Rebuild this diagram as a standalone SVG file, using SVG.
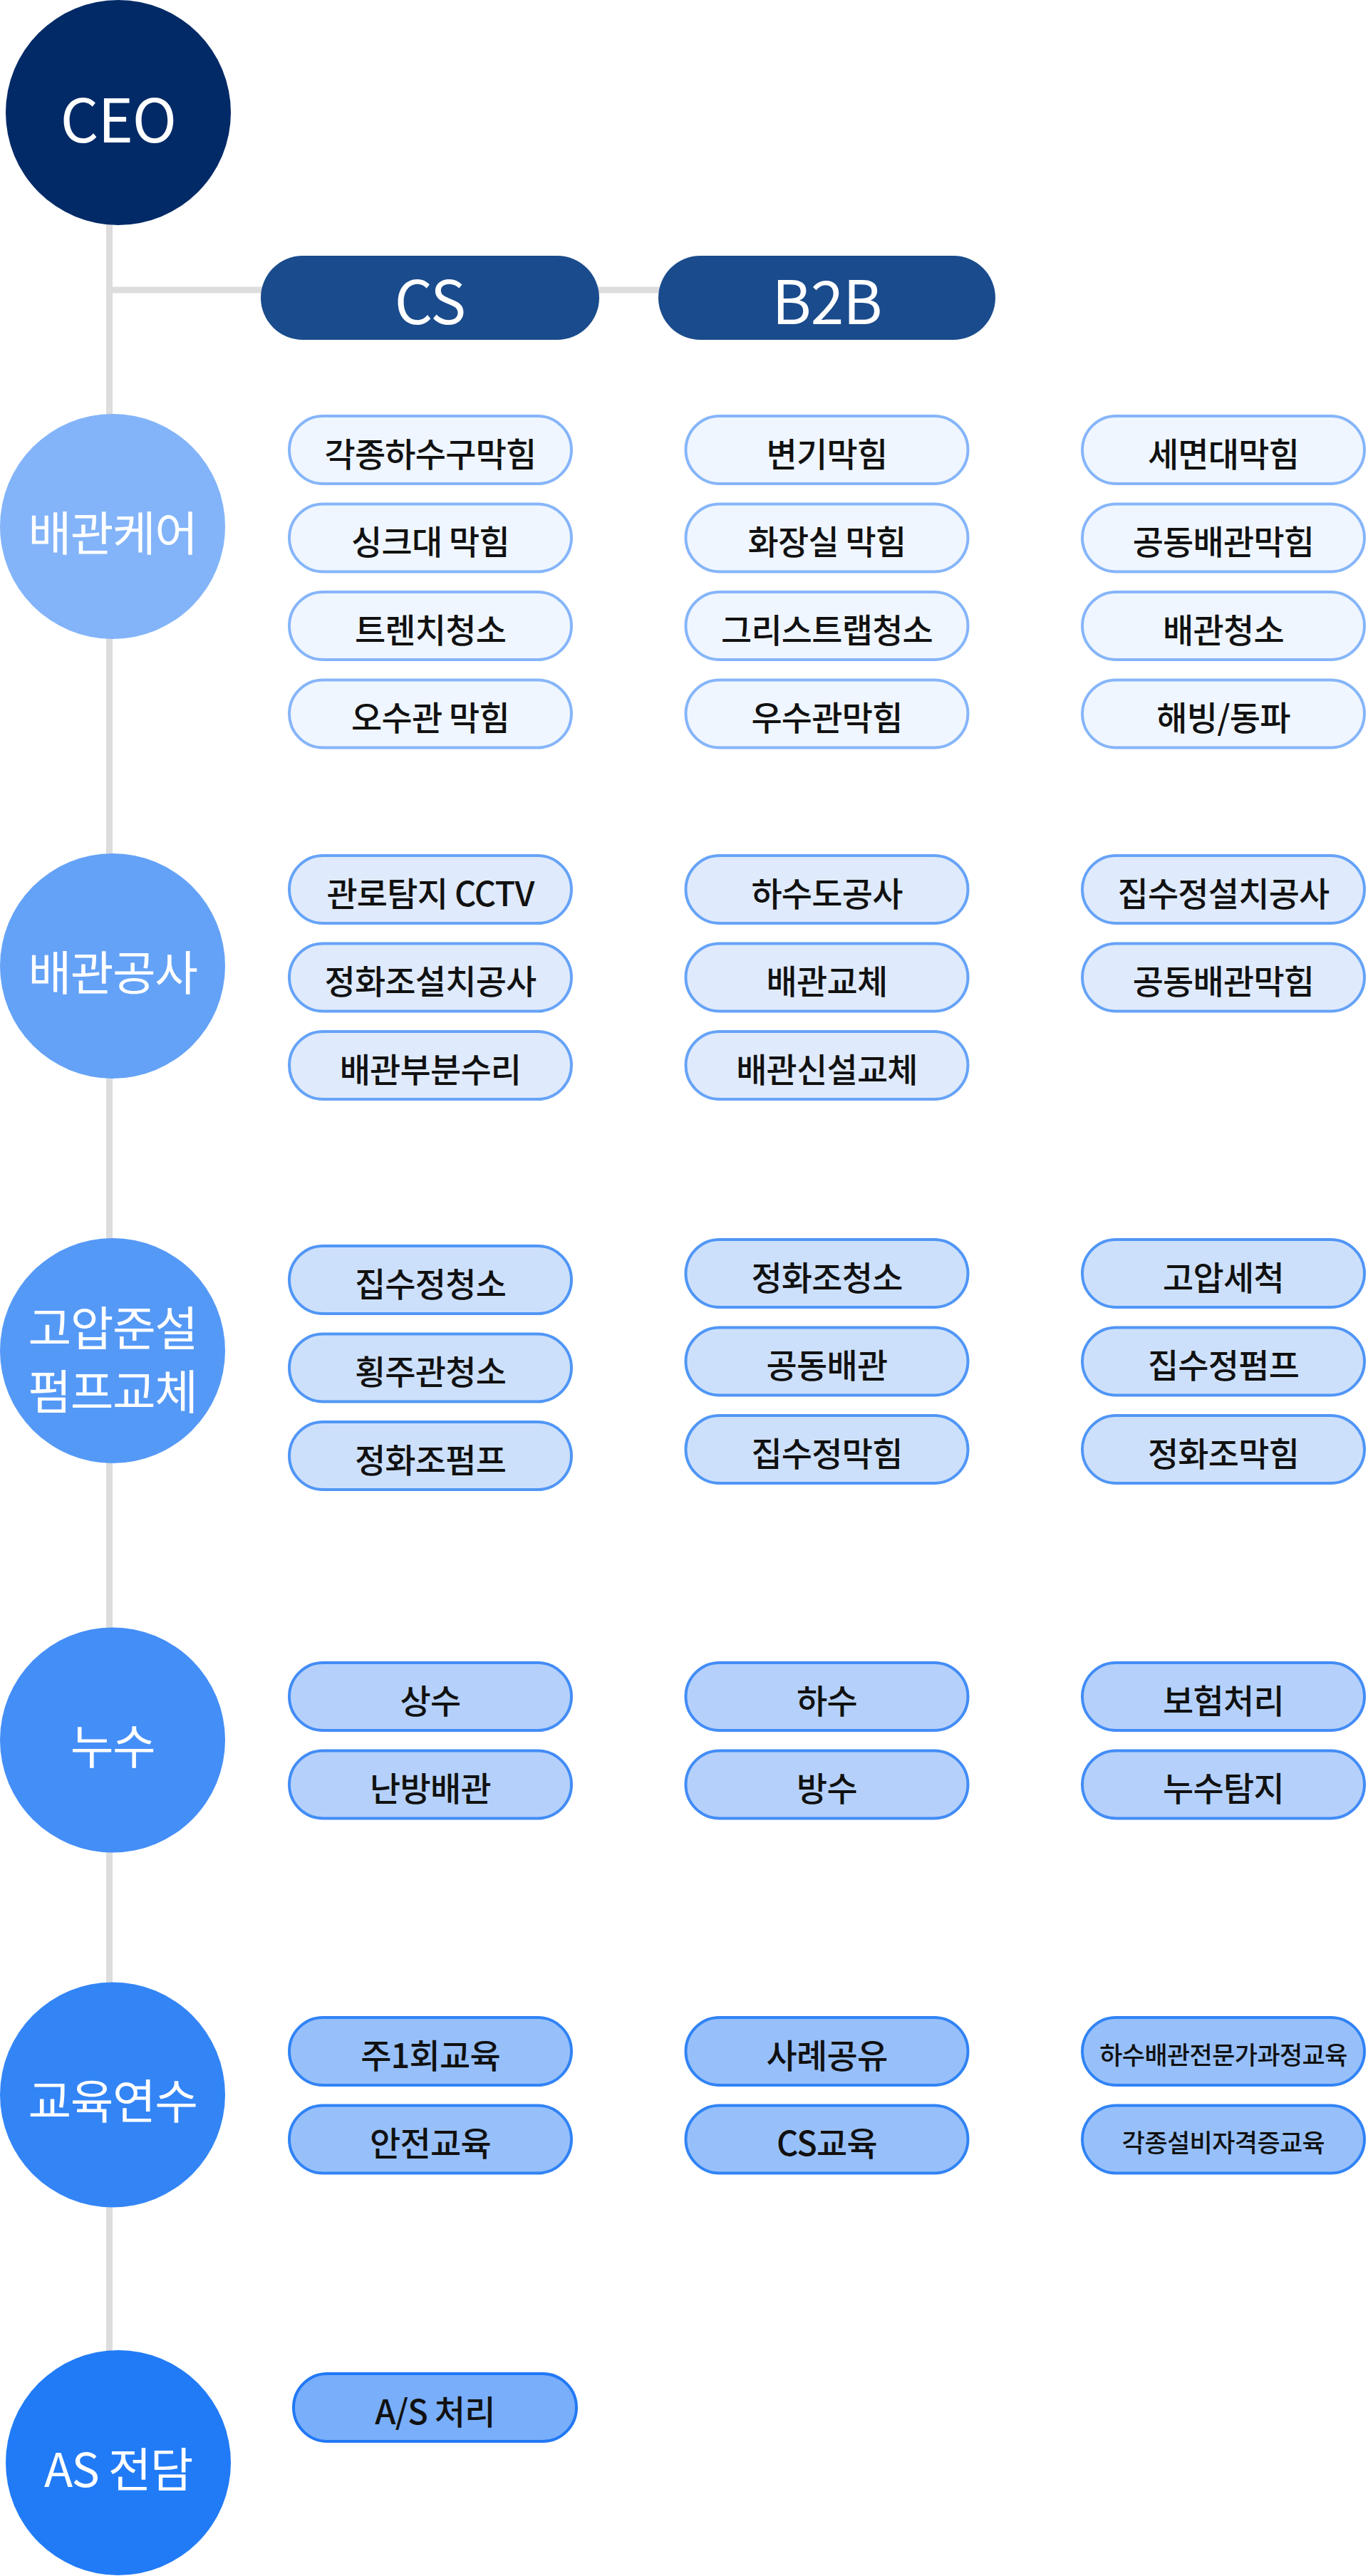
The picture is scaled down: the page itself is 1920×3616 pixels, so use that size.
<svg xmlns="http://www.w3.org/2000/svg" width="1920" height="3616" viewBox="0 0 1920 3616">
<style>
  .ft { font-family: 'Noto Sans CJK KR', 'Noto Sans', sans-serif; }
  .top { fill: #fff; font-size: 84px; text-anchor: middle; dominant-baseline: central; letter-spacing: -1px; }
  .sec { fill: #fff; font-size: 66px; text-anchor: middle; dominant-baseline: central; letter-spacing: -1.5px; }
  .it { fill: #111; font-size: 47px; font-weight: 500; text-anchor: middle; dominant-baseline: central; letter-spacing: -0.8px; }
  .sm { font-size: 35px; letter-spacing: -0.6px; }
  .pill { stroke-width: 4; }
  .c1 { fill: #eff6ff; stroke: #86b5f9; }
  .c2 { fill: #dfeafc; stroke: #66a3f7; }
  .c3 { fill: #cde0fb; stroke: #5096f6; }
  .c4 { fill: #b5d1fb; stroke: #428cf6; }
  .c5 { fill: #97c0fa; stroke: #3183f5; }
  .c6 { fill: #79aefa; stroke: #2178f5; }
</style>
<rect width="1920" height="3616" fill="#fff"/>
<g id="connectors" stroke="#dddddd" stroke-width="9" fill="none">
  <line x1="153.5" y1="158" x2="153.5" y2="3457"/>
  <line x1="153.5" y1="407" x2="930" y2="407"/>
</g>
<g class="ft">
  <g id="ceo"><circle cx="166" cy="158" r="158" fill="#022a67"/><text class="top" x="166" y="163">CEO</text></g>
  <g id="cs"><rect x="366" y="359" width="475" height="118" rx="59" fill="#1a4b8c"/><text class="top" x="603.5" y="418">CS</text></g>
  <g id="b2b"><rect x="924" y="359" width="473" height="118" rx="59" fill="#1a4b8c"/><text class="top" x="1160.5" y="418">B2B</text></g>

  <g id="sec-care"><circle cx="158" cy="739" r="158" fill="#83b4f9"/><text class="sec" x="158" y="744">배관케어</text></g>
  <g id="sec-work"><circle cx="158" cy="1356" r="158" fill="#64a2f7"/><text class="sec" x="158" y="1361">배관공사</text></g>
  <g id="sec-pump"><circle cx="158" cy="1896" r="158" fill="#5599f7"/><text class="sec" x="158" y="1860">고압준설</text><text class="sec" x="158" y="1949">펌프교체</text></g>
  <g id="sec-leak"><circle cx="158" cy="2442.5" r="158" fill="#448ef7"/><text class="sec" x="158" y="2447">누수</text></g>
  <g id="sec-edu"><circle cx="158" cy="2940.5" r="158" fill="#3385f6"/><text class="sec" x="158" y="2945">교육연수</text></g>
  <g id="sec-as"><circle cx="166" cy="3457" r="158" fill="#217bf6"/><text class="sec" x="166" y="3462">AS 전담</text></g>

  <!-- 배관케어 -->
  <g id="care-1-1"><rect class="pill c1" x="406" y="584" width="396" height="95" rx="47.5"/><text class="it" x="604" y="634">각종하수구막힘</text></g>
  <g id="care-1-2"><rect class="pill c1" x="406" y="707.5" width="396" height="95" rx="47.5"/><text class="it" x="604" y="757.5">싱크대 막힘</text></g>
  <g id="care-1-3"><rect class="pill c1" x="406" y="831" width="396" height="95" rx="47.5"/><text class="it" x="604" y="881">트렌치청소</text></g>
  <g id="care-1-4"><rect class="pill c1" x="406" y="954.5" width="396" height="95" rx="47.5"/><text class="it" x="604" y="1004.5">오수관 막힘</text></g>
  <g id="care-2-1"><rect class="pill c1" x="962.5" y="584" width="396" height="95" rx="47.5"/><text class="it" x="1160.5" y="634">변기막힘</text></g>
  <g id="care-2-2"><rect class="pill c1" x="962.5" y="707.5" width="396" height="95" rx="47.5"/><text class="it" x="1160.5" y="757.5">화장실 막힘</text></g>
  <g id="care-2-3"><rect class="pill c1" x="962.5" y="831" width="396" height="95" rx="47.5"/><text class="it" x="1160.5" y="881">그리스트랩청소</text></g>
  <g id="care-2-4"><rect class="pill c1" x="962.5" y="954.5" width="396" height="95" rx="47.5"/><text class="it" x="1160.5" y="1004.5">우수관막힘</text></g>
  <g id="care-3-1"><rect class="pill c1" x="1519" y="584" width="396" height="95" rx="47.5"/><text class="it" x="1717" y="634">세면대막힘</text></g>
  <g id="care-3-2"><rect class="pill c1" x="1519" y="707.5" width="396" height="95" rx="47.5"/><text class="it" x="1717" y="757.5">공동배관막힘</text></g>
  <g id="care-3-3"><rect class="pill c1" x="1519" y="831" width="396" height="95" rx="47.5"/><text class="it" x="1717" y="881">배관청소</text></g>
  <g id="care-3-4"><rect class="pill c1" x="1519" y="954.5" width="396" height="95" rx="47.5"/><text class="it" x="1717" y="1004.5">해빙/동파</text></g>

  <!-- 배관공사 -->
  <g id="work-1-1"><rect class="pill c2" x="406" y="1201" width="396" height="95" rx="47.5"/><text class="it" x="604" y="1251">관로탐지 CCTV</text></g>
  <g id="work-1-2"><rect class="pill c2" x="406" y="1324.5" width="396" height="95" rx="47.5"/><text class="it" x="604" y="1374.5">정화조설치공사</text></g>
  <g id="work-1-3"><rect class="pill c2" x="406" y="1448" width="396" height="95" rx="47.5"/><text class="it" x="604" y="1498">배관부분수리</text></g>
  <g id="work-2-1"><rect class="pill c2" x="962.5" y="1201" width="396" height="95" rx="47.5"/><text class="it" x="1160.5" y="1251">하수도공사</text></g>
  <g id="work-2-2"><rect class="pill c2" x="962.5" y="1324.5" width="396" height="95" rx="47.5"/><text class="it" x="1160.5" y="1374.5">배관교체</text></g>
  <g id="work-2-3"><rect class="pill c2" x="962.5" y="1448" width="396" height="95" rx="47.5"/><text class="it" x="1160.5" y="1498">배관신설교체</text></g>
  <g id="work-3-1"><rect class="pill c2" x="1519" y="1201" width="396" height="95" rx="47.5"/><text class="it" x="1717" y="1251">집수정설치공사</text></g>
  <g id="work-3-2"><rect class="pill c2" x="1519" y="1324.5" width="396" height="95" rx="47.5"/><text class="it" x="1717" y="1374.5">공동배관막힘</text></g>

  <!-- 고압준설 펌프교체 -->
  <g id="pump-1-1"><rect class="pill c3" x="406" y="1749" width="396" height="95" rx="47.5"/><text class="it" x="604" y="1799">집수정청소</text></g>
  <g id="pump-1-2"><rect class="pill c3" x="406" y="1872.5" width="396" height="95" rx="47.5"/><text class="it" x="604" y="1922.5">횡주관청소</text></g>
  <g id="pump-1-3"><rect class="pill c3" x="406" y="1996" width="396" height="95" rx="47.5"/><text class="it" x="604" y="2046">정화조펌프</text></g>
  <g id="pump-2-1"><rect class="pill c3" x="962.5" y="1740" width="396" height="95" rx="47.5"/><text class="it" x="1160.5" y="1790">정화조청소</text></g>
  <g id="pump-2-2"><rect class="pill c3" x="962.5" y="1863.5" width="396" height="95" rx="47.5"/><text class="it" x="1160.5" y="1913.5">공동배관</text></g>
  <g id="pump-2-3"><rect class="pill c3" x="962.5" y="1987" width="396" height="95" rx="47.5"/><text class="it" x="1160.5" y="2037">집수정막힘</text></g>
  <g id="pump-3-1"><rect class="pill c3" x="1519" y="1740" width="396" height="95" rx="47.5"/><text class="it" x="1717" y="1790">고압세척</text></g>
  <g id="pump-3-2"><rect class="pill c3" x="1519" y="1863.5" width="396" height="95" rx="47.5"/><text class="it" x="1717" y="1913.5">집수정펌프</text></g>
  <g id="pump-3-3"><rect class="pill c3" x="1519" y="1987" width="396" height="95" rx="47.5"/><text class="it" x="1717" y="2037">정화조막힘</text></g>

  <!-- 누수 -->
  <g id="leak-1-1"><rect class="pill c4" x="406" y="2334" width="396" height="95" rx="47.5"/><text class="it" x="604" y="2384">상수</text></g>
  <g id="leak-1-2"><rect class="pill c4" x="406" y="2457.5" width="396" height="95" rx="47.5"/><text class="it" x="604" y="2507.5">난방배관</text></g>
  <g id="leak-2-1"><rect class="pill c4" x="962.5" y="2334" width="396" height="95" rx="47.5"/><text class="it" x="1160.5" y="2384">하수</text></g>
  <g id="leak-2-2"><rect class="pill c4" x="962.5" y="2457.5" width="396" height="95" rx="47.5"/><text class="it" x="1160.5" y="2507.5">방수</text></g>
  <g id="leak-3-1"><rect class="pill c4" x="1519" y="2334" width="396" height="95" rx="47.5"/><text class="it" x="1717" y="2384">보험처리</text></g>
  <g id="leak-3-2"><rect class="pill c4" x="1519" y="2457.5" width="396" height="95" rx="47.5"/><text class="it" x="1717" y="2507.5">누수탐지</text></g>

  <!-- 교육연수 -->
  <g id="edu-1-1"><rect class="pill c5" x="406" y="2832" width="396" height="95" rx="47.5"/><text class="it" x="604" y="2882">주1회교육</text></g>
  <g id="edu-1-2"><rect class="pill c5" x="406" y="2955.5" width="396" height="95" rx="47.5"/><text class="it" x="604" y="3005.5">안전교육</text></g>
  <g id="edu-2-1"><rect class="pill c5" x="962.5" y="2832" width="396" height="95" rx="47.5"/><text class="it" x="1160.5" y="2882">사례공유</text></g>
  <g id="edu-2-2"><rect class="pill c5" x="962.5" y="2955.5" width="396" height="95" rx="47.5"/><text class="it" x="1160.5" y="3005.5">CS교육</text></g>
  <g id="edu-3-1"><rect class="pill c5" x="1519" y="2832" width="396" height="95" rx="47.5"/><text class="it sm" x="1717" y="2882">하수배관전문가과정교육</text></g>
  <g id="edu-3-2"><rect class="pill c5" x="1519" y="2955.5" width="396" height="95" rx="47.5"/><text class="it sm" x="1717" y="3005.5">각종설비자격증교육</text></g>

  <!-- AS 전담 -->
  <g id="as-1-1"><rect class="pill c6" x="412" y="3332" width="397" height="95" rx="47.5"/><text class="it" x="610.5" y="3382">A/S 처리</text></g>
</g>
</svg>
